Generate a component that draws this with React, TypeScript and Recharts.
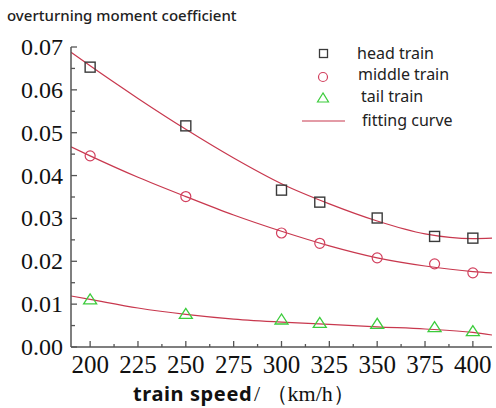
import React from 'react';
import { ComposedChart, Line, Scatter, XAxis, YAxis } from 'recharts';

// measured coefficients at each train speed (km/h)
const speeds = [200, 250, 300, 320, 350, 380, 400];
const headTrain = [0.0653, 0.0516, 0.0366, 0.0338, 0.0301, 0.0258, 0.0254];
const middleTrain = [0.0446, 0.0351, 0.0266, 0.0242, 0.0208, 0.0194, 0.0173];
const tailTrain = [0.011, 0.0076, 0.0063, 0.0055, 0.0053, 0.0045, 0.0036];

// fitted curves, sampled across the full axis range
const fitSpeeds = [190, 200, 225, 250, 275, 300, 325, 350, 375, 400, 410];
const headFit = [0.0688, 0.0656, 0.058, 0.0508, 0.0441, 0.0381, 0.0334, 0.0294, 0.0264, 0.0253, 0.0254];
const middleFit = [0.0467, 0.0446, 0.0396, 0.0351, 0.0308, 0.027, 0.0236, 0.0208, 0.0189, 0.0176, 0.0173];
const tailFit = [0.0119, 0.0111, 0.0091, 0.0076, 0.0065, 0.0058, 0.0053, 0.0047, 0.0042, 0.0034, 0.0028];

const xTicks = [200, 212.5, 225, 237.5, 250, 262.5, 275, 287.5, 300, 312.5, 325, 337.5, 350, 362.5, 375, 387.5, 400];
const yTicks = [0, 0.005, 0.01, 0.015, 0.02, 0.025, 0.03, 0.035, 0.04, 0.045, 0.05, 0.055, 0.06, 0.065, 0.07];

const pointRows = speeds.map((speed, i) => ({
  speed,
  head: headTrain[i],
  middle: middleTrain[i],
  tail: tailTrain[i],
}));

const fitRows = fitSpeeds.map((speed, i) => ({
  speed,
  headFit: headFit[i],
  middleFit: middleFit[i],
  tailFit: tailFit[i],
}));

const W = 496;
const H = 408;
const PLOT_LEFT = 71;
const PLOT_BOTTOM = 347;

const AXIS = '#555';
const FIT = '#c8384e';
const SQUARE = '#3a3a3a';
const CIRCLE = '#d2405e';
const TRIANGLE = '#3ccc3c';
const SERIF = 'Liberation Serif';
const SANS = 'Noto Sans';

const SquareDot = (p: any) => (
  <rect x={p.cx - 5} y={p.cy - 5} width={10} height={10} fill="none" stroke={SQUARE} strokeWidth={1.4} />
);
const CircleDot = (p: any) => <circle cx={p.cx} cy={p.cy} r={5} fill="none" stroke={CIRCLE} strokeWidth={1.2} />;
const TriangleDot = (p: any) => (
  <polygon
    points={`${p.cx},${p.cy - 6} ${p.cx - 6.5},${p.cy + 4} ${p.cx + 6.5},${p.cy + 4}`}
    fill="none"
    stroke={TRIANGLE}
    strokeWidth={1.3}
  />
);

const isMajor = (v: number, step: number) => Math.abs(v / step - Math.round(v / step)) < 1e-6;

// ticks point into the plot; only the major ones get a label
const XTick = (props: any) => {
  const { x, payload } = props;
  const major = isMajor(payload.value, 25);
  return (
    <g>
      <line x1={x} x2={x} y1={PLOT_BOTTOM} y2={PLOT_BOTTOM - (major ? 6 : 3)} stroke={AXIS} strokeWidth={1.3} />
      {major && (
        <text x={x} y={373} textAnchor="middle" fontFamily={SERIF} fontSize={25} fill="#111">
          {payload.value}
        </text>
      )}
    </g>
  );
};

const YTick = (props: any) => {
  const { y, payload } = props;
  const major = isMajor(payload.value, 0.01);
  return (
    <g>
      <line x1={PLOT_LEFT} x2={PLOT_LEFT + (major ? 6 : 4)} y1={y} y2={y} stroke={AXIS} strokeWidth={1.3} />
      {major && (
        <text x={63} y={y + 8} textAnchor="end" fontFamily={SERIF} fontSize={24} fill="#111">
          {payload.value.toFixed(2)}
        </text>
      )}
    </g>
  );
};

export default function App() {
  return (
    <div style={{ position: 'absolute', left: 0, top: 0, width: W, height: H, background: '#fff' }}>
      <ComposedChart width={W} height={H} margin={{ top: 47, right: 4, bottom: 21, left: 0 }}>
        <XAxis
          type="number"
          dataKey="speed"
          domain={[190, 410]}
          ticks={xTicks}
          interval={0}
          allowDataOverflow
          height={40}
          axisLine={{ stroke: AXIS, strokeWidth: 1.5 }}
          tickLine={false}
          tick={XTick}
        />
        <YAxis
          type="number"
          domain={[0, 0.07]}
          ticks={yTicks}
          interval={0}
          width={71}
          axisLine={{ stroke: AXIS, strokeWidth: 1.5 }}
          tickLine={false}
          tick={YTick}
        />
        <Line data={fitRows} dataKey="headFit" type="monotone" stroke={FIT} strokeWidth={1.2} dot={false} isAnimationActive={false} />
        <Line data={fitRows} dataKey="middleFit" type="monotone" stroke={FIT} strokeWidth={1.2} dot={false} isAnimationActive={false} />
        <Line data={fitRows} dataKey="tailFit" type="monotone" stroke={FIT} strokeWidth={1.2} dot={false} isAnimationActive={false} />
        <Scatter data={pointRows} dataKey="head" shape={SquareDot} isAnimationActive={false} />
        <Scatter data={pointRows} dataKey="middle" shape={CircleDot} isAnimationActive={false} />
        <Scatter data={pointRows} dataKey="tail" shape={TriangleDot} isAnimationActive={false} />
      </ComposedChart>
      <svg width={W} height={H} style={{ position: 'absolute', left: 0, top: 0, pointerEvents: 'none' }}>
        <text x={7} y={21} fontFamily={SANS} fontSize={15} fontWeight={500} fill="#222">
          overturning moment coefficient
        </text>
        <text x={133} y={401} fontFamily={SANS} fontSize={20} fontWeight={700} letterSpacing={0.6} fill="#111">
          train speed
        </text>
        <text x={254} y={401} fontFamily={SERIF} fontSize={22} fill="#111">
          / （km/h）
        </text>
        {/* legend */}
        <rect x={319.5} y={49.5} width={8} height={8} fill="none" stroke={SQUARE} strokeWidth={1.3} />
        <circle cx={323} cy={77} r={4.5} fill="none" stroke={CIRCLE} strokeWidth={1.2} />
        <polygon points="323,93 317.5,102 328.5,102" fill="none" stroke={TRIANGLE} strokeWidth={1.2} />
        <line x1={302} x2={345} y1={121} y2={121} stroke={FIT} strokeWidth={1.2} />
        <g fontFamily={SANS} fontSize={16} fill="#222">
          <text x={357} y={59}>head train</text>
          <text x={358} y={80}>middle train</text>
          <text x={361} y={102}>tail train</text>
          <text x={362} y={126}>fitting curve</text>
        </g>
      </svg>
    </div>
  );
}
